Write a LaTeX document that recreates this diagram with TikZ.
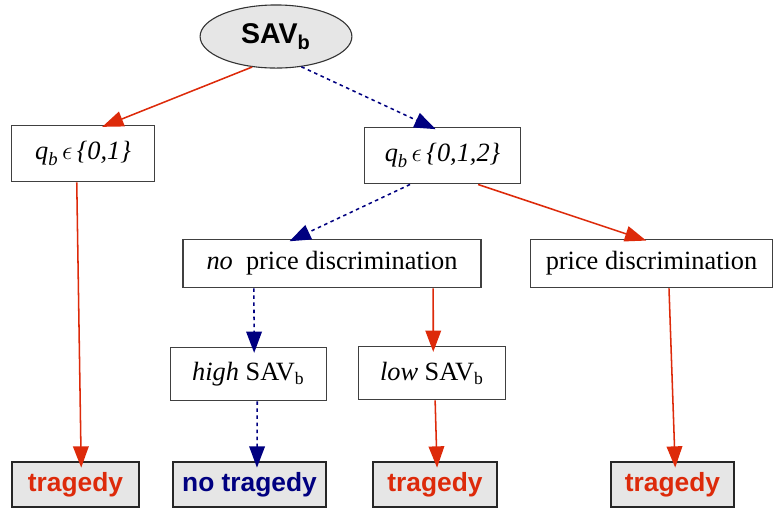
\documentclass[tikz,border=0pt]{standalone}
\usepackage{fontspec}
\setmainfont{Liberation Serif}
\setsansfont{Liberation Sans}
\usetikzlibrary{arrows.meta,shapes.geometric}
\definecolor{tred}{RGB}{221,42,10}
\definecolor{tblue}{RGB}{0,0,128}
\definecolor{tgray}{RGB}{230,230,230}
\newcommand{\qsub}{\textit{q}\raisebox{-0.55ex}{\fontsize{8.5}{9}\selectfont\itshape b}\,$\epsilon$\,}
\begin{document}
\begin{tikzpicture}[x=0.016cm,y=-0.016cm,
  every node/.style={inner sep=0pt,font=\fontsize{12}{14}\selectfont},
  box/.style={draw=black!75,line width=0.5pt},
  leaf/.style={draw=black!85,fill=tgray,line width=0.6pt,minimum height=0.72cm,font=\fontsize{12}{14}\selectfont\sffamily\bfseries},
  redarr/.style={draw=tred,line width=0.7pt,-{Triangle[length=3.4mm,width=2.5mm]},shorten >=-1mm},
  bluearr/.style={draw=tblue,line width=0.7pt,dash pattern=on 1.6pt off 1.6pt,-{Triangle[length=3.4mm,width=2.5mm]},shorten >=-1mm}]
\useasboundingbox (0,0) rectangle (773,508);
\node[ellipse,draw=black!80,fill=tgray,line width=0.5pt,minimum width=2.43cm,minimum height=1.01cm,
  font=\fontsize{13}{15}\selectfont\sffamily\bfseries] (sav) at (276,36.5) {SAV\textsubscript{b}};
\node[box,minimum width=2.30cm,minimum height=0.91cm] (q1) at (83,153.5) {\qsub\textit{\{0,1\}}};
\node[box,minimum width=2.51cm,minimum height=0.91cm] (q2) at (442.5,155.5) {\qsub\textit{\{0,1,2\}}};
\node[box,minimum width=4.77cm,minimum height=0.78cm] (nopd) at (332,263.5) {\textit{no}\ \ price discrimination};
\node[box,minimum width=3.86cm,minimum height=0.78cm] (pd) at (651.5,263.5) {price discrimination};
\node[box,minimum width=2.51cm,minimum height=0.86cm] (high) at (248.5,374) {\textit{high} SAV\textsubscript{b}};
\node[box,minimum width=2.34cm,minimum height=0.86cm] (low) at (432,373) {\textit{low} SAV\textsubscript{b}};
\foreach \n/\x/\w/\t/\c in {t1/75.5/2.03/tragedy/tred,t2/249.5/2.45/no tragedy/tblue,t3/435/1.98/tragedy/tred,t4/672.5/1.97/tragedy/tred}
  \node[leaf,minimum width=\w cm,text=\c] (\n) at (\x,484.5) {\t};
\draw[redarr] (sav.232) -- ([xshift=0.4cm]q1.north);
\draw[bluearr] (sav.-50) -- ([xshift=-0.2cm]q2.north);
\draw[redarr] ([xshift=-0.1cm]q1.south) -- ([xshift=0.09cm]t1.north);
\draw[bluearr] ([xshift=-0.52cm]q2.south) -- ([xshift=-0.59cm]nopd.north);
\draw[redarr] ([xshift=0.57cm]q2.south) -- ([xshift=-0.18cm]pd.north);
\draw[bluearr] ([xshift=-1.25cm]nopd.south) -- ([xshift=0.09cm]high.north);
\draw[redarr] ([xshift=1.62cm]nopd.south) -- ([xshift=0.02cm]low.north);
\draw[bluearr] ([xshift=0.14cm]high.south) -- ([xshift=0.12cm]t2.north);
\draw[redarr] ([xshift=0.05cm]low.south) -- ([xshift=0.03cm]t3.north);
\draw[redarr] ([xshift=0.28cm]pd.south) -- ([xshift=0.04cm]t4.north);
\end{tikzpicture}
\end{document}
